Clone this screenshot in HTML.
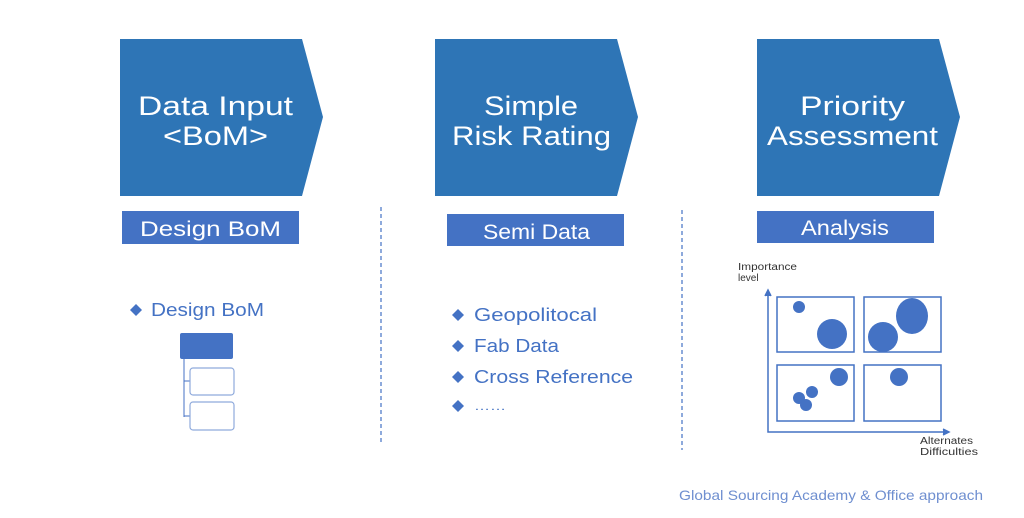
<!DOCTYPE html>
<html><head><meta charset="utf-8"><style>
html,body{margin:0;padding:0;background:#fff;width:1024px;height:518px;overflow:hidden}
svg text{font-family:"Liberation Sans","DejaVu Sans",sans-serif}
</style></head><body>
<svg width="1024" height="518" viewBox="0 0 1024 518" xmlns="http://www.w3.org/2000/svg">
<g fill="#2e75b6">
<polygon points="120,39 302,39 323,117 302,196 120,196"/>
<polygon points="435,39 617,39 638,117 617,196 435,196"/>
<polygon points="757,39 939,39 960,117 939,196 757,196"/>
</g>
<g fill="#fff" font-size="27" lengthAdjust="spacingAndGlyphs">
<text x="138" y="115" textLength="155" lengthAdjust="spacingAndGlyphs">Data Input</text>
<text x="163" y="145" textLength="105" lengthAdjust="spacingAndGlyphs">&lt;BoM&gt;</text>
<text x="484" y="115" textLength="94" lengthAdjust="spacingAndGlyphs">Simple</text>
<text x="452" y="145" textLength="159" lengthAdjust="spacingAndGlyphs">Risk Rating</text>
<text x="800" y="115" textLength="105" lengthAdjust="spacingAndGlyphs">Priority</text>
<text x="767" y="145" textLength="171" lengthAdjust="spacingAndGlyphs">Assessment</text>
</g>
<g fill="#4472c4">
<rect x="122" y="211" width="177" height="33"/>
<rect x="447" y="214" width="177" height="32"/>
<rect x="757" y="211" width="177" height="32"/>
</g>
<g fill="#fff" font-size="21">
<text x="140" y="236" textLength="141" lengthAdjust="spacingAndGlyphs">Design BoM</text>
<text x="483" y="239" textLength="107" lengthAdjust="spacingAndGlyphs">Semi Data</text>
<text x="801" y="235" textLength="88" lengthAdjust="spacingAndGlyphs">Analysis</text>
</g>
<g stroke="#4472c4" stroke-width="1.2" stroke-dasharray="4,3">
<line x1="381" y1="207" x2="381" y2="443"/>
<line x1="682" y1="210" x2="682" y2="450"/>
</g>
<g fill="#4472c4" font-size="18">
<path d="M130 310 l6 -6 l6 6 l-6 6z"/><text x="151" y="316" textLength="113" lengthAdjust="spacingAndGlyphs">Design BoM</text>
<path d="M452 315 l6 -6 l6 6 l-6 6z"/><text x="474" y="321" textLength="123" lengthAdjust="spacingAndGlyphs">Geopolitocal</text>
<path d="M452 346 l6 -6 l6 6 l-6 6z"/><text x="474" y="352" textLength="85" lengthAdjust="spacingAndGlyphs">Fab Data</text>
<path d="M452 377 l6 -6 l6 6 l-6 6z"/><text x="474" y="383" textLength="159" lengthAdjust="spacingAndGlyphs">Cross Reference</text>
<path d="M452 406 l6 -6 l6 6 l-6 6z"/><text x="474" y="410" font-size="12" textLength="32" lengthAdjust="spacingAndGlyphs">……</text>
</g>
<rect x="180" y="333" width="53" height="26" rx="2" fill="#4472c4"/>
<path d="M184 359 V417 M184 381 H190 M184 416 H190" stroke="#4472c4" fill="none" stroke-width="1"/>
<rect x="190" y="368" width="44" height="27" rx="3" fill="#fff" stroke="#8faadc" stroke-width="1.2"/>
<rect x="190" y="402" width="44" height="28" rx="3" fill="#fff" stroke="#8faadc" stroke-width="1.2"/>
<g stroke="#4472c4" stroke-width="1.5" fill="none">
<path d="M768 292 V432 H946"/>
<path d="M765 296 L768 290 L771 296 M943 429 L949 432 L943 435" fill="#4472c4"/>
<rect x="777" y="297" width="77" height="55"/>
<rect x="864" y="297" width="77" height="55"/>
<rect x="777" y="365" width="77" height="56"/>
<rect x="864" y="365" width="77" height="56"/>
</g>
<g fill="#4472c4">
<circle cx="799" cy="307" r="6"/><circle cx="832" cy="334" r="15"/>
<circle cx="883" cy="337" r="15"/><ellipse cx="912" cy="316" rx="16" ry="18"/>
<circle cx="839" cy="377" r="9"/><circle cx="899" cy="377" r="9"/>
<circle cx="799" cy="398" r="6"/><circle cx="812" cy="392" r="6"/><circle cx="806" cy="405" r="6"/>
</g>
<g fill="#333" font-size="10">
<text x="738" y="270" textLength="59" lengthAdjust="spacingAndGlyphs">Importance</text><text x="738" y="281">level</text>
<text x="920" y="444" textLength="53" lengthAdjust="spacingAndGlyphs">Alternates</text><text x="920" y="455" textLength="58" lengthAdjust="spacingAndGlyphs">Difficulties</text>
</g>
<text x="679" y="500" fill="#6f8fd0" font-size="14" textLength="304" lengthAdjust="spacingAndGlyphs">Global Sourcing Academy &amp; Office approach</text>
</svg>
</body></html>
